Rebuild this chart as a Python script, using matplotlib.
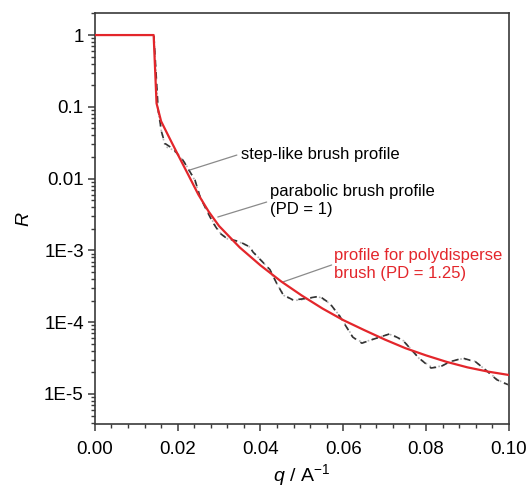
import matplotlib
matplotlib.use("Agg")
import matplotlib.pyplot as plt
from matplotlib.ticker import MultipleLocator, LogLocator, NullFormatter, FuncFormatter

plt.rcParams["font.family"] = ["Liberation Sans", "DejaVu Sans"]
plt.rcParams["mathtext.fontset"] = "custom"
plt.rcParams["mathtext.rm"] = "Liberation Sans"
plt.rcParams["mathtext.it"] = "Liberation Sans:italic"

# polydisperse brush (PD = 1.25)
q_poly = [0.0, 0.0142, 0.0149, 0.016, 0.018, 0.020, 0.0225, 0.025, 0.0275, 0.030,
          0.035, 0.040, 0.045, 0.050, 0.055, 0.060, 0.065, 0.070, 0.075, 0.080,
          0.085, 0.090, 0.095, 0.100]
R_poly = [1.0, 1.0, 0.112, 0.063, 0.037, 0.0219, 0.0115, 6.0e-3, 3.47e-3, 2.19e-3,
          1.10e-3, 6.2e-4, 3.7e-4, 2.35e-4, 1.55e-4, 1.07e-4, 7.8e-5, 5.75e-5, 4.35e-5, 3.45e-5,
          2.8e-5, 2.35e-5, 2.05e-5, 1.84e-5]

# step-like brush profile
q_step = [0.0, 0.01425, 0.0153, 0.0161, 0.0169, 0.0189, 0.0213, 0.0242, 0.0254, 0.0270,
          0.0286, 0.0302, 0.0318, 0.0350, 0.0374, 0.0382, 0.0423, 0.0439, 0.0455, 0.0479,
          0.0511, 0.0543, 0.0568, 0.0592, 0.0623, 0.0645, 0.0671, 0.0713, 0.0744, 0.0782,
          0.0812, 0.0835, 0.0857, 0.0889, 0.0920, 0.0945, 0.0971, 0.0998]
R_step = [1.0, 1.0, 0.090, 0.045, 0.031, 0.026, 0.018, 9.5e-3, 5.6e-3, 3.6e-3,
          2.4e-3, 1.74e-3, 1.48e-3, 1.32e-3, 1.12e-3, 9.5e-4, 5.4e-4, 3.5e-4, 2.4e-4, 2.04e-4,
          2.14e-4, 2.3e-4, 1.82e-4, 1.2e-4, 6.2e-5, 5.1e-5, 5.75e-5, 6.9e-5, 5.6e-5, 3.2e-5,
          2.3e-5, 2.4e-5, 2.8e-5, 3.16e-5, 2.8e-5, 2.14e-5, 1.58e-5, 1.35e-5]

# parabolic brush profile (PD = 1)
q_para = [0.0, 0.01425, 0.0152, 0.0160, 0.0170, 0.0190, 0.0215, 0.0240, 0.0255, 0.0270,
          0.0288, 0.0304, 0.0320, 0.0350, 0.0372, 0.0385, 0.0420, 0.0440, 0.0457, 0.0480,
          0.0510, 0.0540, 0.0566, 0.0594, 0.0625, 0.0648, 0.0675, 0.0712, 0.0746, 0.0784,
          0.0814, 0.0838, 0.0860, 0.0888, 0.0918, 0.0947, 0.0972, 0.1000]
R_para = [1.0, 1.0, 0.095, 0.048, 0.028, 0.025, 0.0175, 9.8e-3, 5.5e-3, 3.7e-3,
          2.35e-3, 1.72e-3, 1.45e-3, 1.30e-3, 1.14e-3, 9.2e-4, 5.6e-4, 3.4e-4, 2.35e-4, 2.0e-4,
          2.1e-4, 2.28e-4, 1.85e-4, 1.18e-4, 6.0e-5, 5.2e-5, 5.9e-5, 6.8e-5, 5.5e-5, 3.1e-5,
          2.35e-5, 2.45e-5, 2.85e-5, 3.1e-5, 2.85e-5, 2.1e-5, 1.6e-5, 1.3e-5]

ytick_vals = [1, 0.1, 0.01, 1e-3, 1e-4, 1e-5]
ytick_labels = ["1", "0.1", "0.01", "1E-3", "1E-4", "1E-5"]

red = "#e3262b"
axis_col = "#3a3a3a"

fig = plt.figure(figsize=(5.3, 4.9), dpi=100)
ax = fig.add_axes([0.179, 0.1347, 0.781, 0.8388])

ax.plot(q_para, R_para, color="#b4b4b4", lw=1.2, linestyle=(0, (1, 1.8)), zorder=2)
ax.plot(q_step, R_step, color="#333333", lw=1.2, linestyle=(0, (4, 3.2)), zorder=3)
ax.plot(q_poly, R_poly, color=red, lw=1.6, zorder=4)

ax.set_yscale("log")
ax.set_xlim(0, 0.10)
ax.set_ylim(3.82e-6, 2.03)

ax.xaxis.set_major_locator(MultipleLocator(0.02))
ax.xaxis.set_minor_locator(MultipleLocator(0.004))
ax.xaxis.set_major_formatter(FuncFormatter(lambda v, p: "%.2f" % v))
ax.set_yticks(ytick_vals)
ax.set_yticklabels(ytick_labels)
ax.yaxis.set_minor_locator(LogLocator(base=10, subs=range(2, 10), numticks=20))
ax.yaxis.set_minor_formatter(NullFormatter())

ax.tick_params(which="major", direction="out", length=5, width=1.1, color=axis_col,
               labelsize=13.5, pad=3, top=False, right=False)
ax.tick_params(axis="x", which="major", pad=7)
ax.tick_params(which="minor", direction="out", length=3, width=1.0, color=axis_col,
               top=False, right=False)
for s in ax.spines.values():
    s.set_color(axis_col)
    s.set_linewidth(1.2)

ax.set_xlabel(r"$q$ / A$^{\mathregular{-1}}$", fontsize=14, labelpad=3)
ax.set_ylabel("R", fontsize=14, style="italic", labelpad=8)

# labels and pointer lines
line_kw = dict(arrowstyle="-", color="#8a8a8a", lw=0.9, shrinkA=0, shrinkB=0)
ax.annotate("", xy=(0.02295, 0.0132), xytext=(0.0343, 0.0213), arrowprops=line_kw)
ax.text(0.0352, 0.0215, "step-like brush profile", fontsize=12, va="center", ha="left")

ax.annotate("", xy=(0.0297, 2.92e-3), xytext=(0.0415, 4.72e-3), arrowprops=line_kw)
ax.text(0.0424, 4.9e-3, "parabolic brush profile\n(PD = 1)", fontsize=12, va="center",
        ha="left", linespacing=1.25)

ax.annotate("", xy=(0.0454, 3.63e-4), xytext=(0.0572, 6.27e-4), arrowprops=line_kw)
ax.text(0.0578, 6.4e-4, "profile for polydisperse\nbrush (PD = 1.25)", fontsize=12,
        va="center", ha="left", color=red, linespacing=1.25)

fig.savefig("out.png", dpi=100)
